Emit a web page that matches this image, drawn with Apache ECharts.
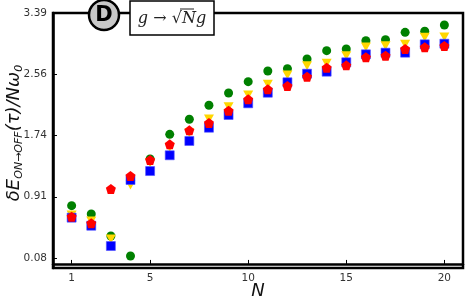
<!DOCTYPE html>
<html><head><meta charset="utf-8">
<script src="https://cdn.jsdelivr.net/npm/echarts@6/dist/echarts.min.js"></script>
<style>html,body{margin:0;padding:0;background:#fff}#c{width:465px;height:305px}</style>
</head><body><div id="c"></div>
<script>
const N = [1,2,3,4,5,6,7,8,9,10,11,12,13,14,15,16,17,18,19,20];
const greenVals  = [0.787,0.674,0.377,0.107,1.418,1.751,1.954,2.143,2.309,2.462,2.606,2.638,2.769,2.881,2.904,3.016,3.029,3.129,3.143,3.228];
const yellowVals = [0.661,0.580,0.337,1.066,1.368,1.576,1.773,1.958,2.124,2.282,2.427,2.552,2.678,2.710,2.813,2.931,2.948,2.967,3.062,3.066];
const blueVals   = [0.625,0.516,0.242,1.134,1.255,1.468,1.661,1.840,2.012,2.170,2.313,2.454,2.570,2.597,2.724,2.832,2.854,2.854,2.967,2.975];
const redVals    = [0.638,0.549,1.012,1.188,1.404,1.616,1.805,1.904,2.070,2.224,2.359,2.404,2.529,2.651,2.683,2.792,2.813,2.904,2.927,2.944];
const xTicks = [1,5,10,15,20];
const yTicks = [0.08,0.9075,1.735,2.5625,3.39];
const yTickLabels = ['0.08','0.91','1.74','2.56','3.39'];

const pentagon = 'path://M0,-1 L0.951,-0.309 L0.588,0.809 L-0.588,0.809 L-0.951,-0.309 Z';
function pairs(v){ return N.map((n,i)=>[n,v[i]]); }
const font = 'DejaVu Sans';
const chart = echarts.init(document.getElementById('c'), null, {renderer:'canvas'});
chart.setOption({
  animation:false,
  grid:{left:53, top:13, right:2, bottom:37, containLabel:false, outerBoundsMode:'none', show:true, borderColor:'#000', borderWidth:2.5, backgroundColor:'transparent'},
  xAxis:{type:'value', min:0.05, max:20.95,
    name:'N', nameLocation:'middle', nameGap:14, nameMoveOverlap:false,
    nameTextStyle:{fontFamily:font, fontStyle:'italic', fontSize:18, color:'#111'},
    axisLine:{show:true, lineStyle:{color:'#000', width:2.5}},
    axisTick:{show:true, inside:true, length:4, lineStyle:{color:'#000'}, customValues:xTicks},
    axisLabel:{customValues:xTicks, fontFamily:font, fontSize:10.5, color:'#333', margin:5},
    splitLine:{show:false}},
  yAxis:{type:'value', min:-0.055, max:3.39,
    axisLine:{show:true, lineStyle:{color:'#000', width:2.5}},
    axisTick:{show:true, inside:true, length:4, lineStyle:{color:'#000'}, customValues:yTicks},
    axisLabel:{customValues:yTicks, fontFamily:font, fontSize:10.5, color:'#333', margin:6,
      formatter:(v)=>{const i=yTicks.findIndex(t=>Math.abs(t-v)<1e-6); return i>=0?yTickLabels[i]:'';}},
    splitLine:{show:false}},
  series:[
    {type:'scatter', data:pairs(greenVals), symbol:'circle', symbolSize:9, itemStyle:{color:'#008000', opacity:1}, z:2},
    {type:'scatter', data:pairs(yellowVals), symbol:'triangle', symbolRotate:180, symbolSize:[10,9], itemStyle:{color:'#FFD700', opacity:1}, z:3},
    {type:'scatter', data:pairs(blueVals), symbol:'rect', symbolSize:9, itemStyle:{color:'#0000FF', opacity:1, borderColor:'rgba(80,80,255,0.6)', borderWidth:1}, z:4},
    {type:'scatter', data:pairs(redVals), symbol:pentagon, symbolSize:10, itemStyle:{color:'#FF0000', opacity:1}, z:5}
  ],
  graphic:[
    {type:'text', x:14, y:133, rotation:Math.PI/2, style:{
      text:'{m|δE}{s|ON→OFF}{m|(τ)/Nω}{s|0}', align:'center', verticalAlign:'middle',
      rich:{
        m:{fontFamily:font, fontStyle:'italic', fontSize:18, fill:'#111', lineHeight:22},
        s:{fontFamily:font, fontStyle:'italic', fontSize:11, fill:'#111', lineHeight:22, verticalAlign:'bottom', padding:[8,0,0,0]}}}, z:50},
    {type:'circle', shape:{cx:104, cy:15, r:15}, style:{fill:'#c8c8c8', stroke:'#000', lineWidth:2.5}, z:100},
    {type:'text', x:104, y:16, style:{text:'D', fontFamily:font, fontWeight:'bold', fontSize:21, fill:'#000', align:'center', verticalAlign:'middle'}, z:101},
    {type:'rect', shape:{x:130, y:1, width:84, height:34}, style:{fill:'#fff', stroke:'#000', lineWidth:1.5}, z:100},
    {type:'text', x:172, y:19, style:{text:'g → √Ng', fontFamily:'DejaVu Serif', fontStyle:'italic', fontSize:16, fill:'#222', align:'center', verticalAlign:'middle'}, z:101},
    {type:'line', shape:{x1:180, y1:9, x2:194, y2:9}, style:{stroke:'#222', lineWidth:1}, z:101}
  ]
});
</script></body></html>
